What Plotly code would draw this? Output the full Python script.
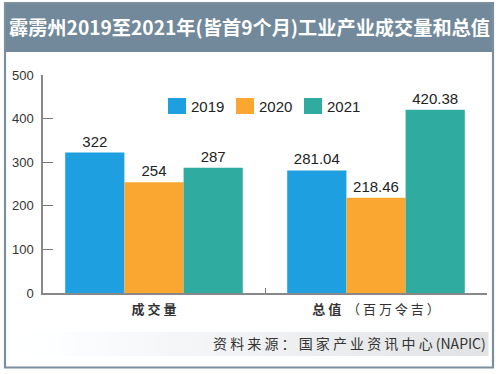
import plotly.graph_objects as go

categories = ["成交量", "总值（百万令吉）"]
tick_labels = ["<b>成 交 量</b>", "<b>总 值</b>  （ 百 万 令 吉 ）"]
series_names = ["2019", "2020", "2021"]
values_2019 = [322, 281.04]
values_2020 = [254, 218.46]
values_2021 = [287, 420.38]
label_2019 = ["322", "281.04"]
label_2020 = ["254", "218.46"]
label_2021 = ["287", "420.38"]
y_ticks = [0, 100, 200, 300, 400, 500]

title_text = "霹雳州2019至2021年(皆首9个月)工业产业成交量和总值"
source_text = "资 料 来 源 ： 国 家 产 业 资 讯 中 心 (NAPIC)"

colors = ["#1ea0e0", "#f9a731", "#2fab9f"]
W, H = 500, 374
ML, MR, MT, MB = 43, 13, 75, 81
PW, PH = W - ML - MR, H - MT - MB
num_font = "Liberation Sans, Arial, sans-serif"
cjk_font = "Noto Sans CJK SC"

fig = go.Figure()
for name, vals, labs, c in zip(series_names, [values_2019, values_2020, values_2021],
                                [label_2019, label_2020, label_2021], colors):
    fig.add_trace(go.Bar(
        x=categories, y=vals, name=name, marker=dict(color=c, line=dict(width=0)),
        text=labs, textposition="outside", cliponaxis=False,
        textfont=dict(family=num_font, size=15, color="#222222"),
        showlegend=False,
    ))

def px_x(p):
    return (p - ML) / PW

def px_y(p):
    return (H - MB - p) / PH

shapes = []
# gradient band behind source text
n = 40
x_start, x_end = 14, 488
for i in range(n):
    t = i / (n - 1)
    g = int(round(255 - (255 - 226) * t))
    col = f"rgb({g},{g+1},{min(255, g+3)})"
    xa = x_start + (x_end - x_start) * i / n
    xb = x_start + (x_end - x_start) * (i + 1) / n + 0.5
    shapes.append(dict(type="rect", xref="paper", yref="paper",
                       x0=px_x(xa), x1=px_x(xb), y0=px_y(356), y1=px_y(332),
                       fillcolor=col, line=dict(width=0), layer="below"))
# banner
shapes.append(dict(type="rect", xref="paper", yref="paper",
                   x0=px_x(4), x1=px_x(494), y0=px_y(3), y1=px_y(52),
                   fillcolor="#71899a", line=dict(width=0), layer="below"))
# frame
shapes.append(dict(type="rect", xref="paper", yref="paper",
                   x0=px_x(5), x1=px_x(493), y0=px_y(3), y1=px_y(367.5),
                   fillcolor="rgba(0,0,0,0)", line=dict(color="#7c8f9c", width=2.2), layer="above"))

annotations = []
annotations.append(dict(text="<b>" + title_text + "</b>", xref="paper", yref="paper",
                        x=px_x(249), y=px_y(27), xanchor="center", yanchor="middle",
                        showarrow=False, font=dict(family=cjk_font, size=19.2, color="white")))
annotations.append(dict(text=source_text, xref="paper", yref="paper",
                        x=px_x(488), y=px_y(343), xanchor="right", yanchor="middle",
                        showarrow=False, font=dict(family=cjk_font, size=14, color="#333333")))

# manual legend
leg_x = [168, 236, 304]
for name, c, lx in zip(series_names, colors, leg_x):
    shapes.append(dict(type="rect", xref="paper", yref="paper",
                       x0=px_x(lx), x1=px_x(lx + 18), y0=px_y(98), y1=px_y(114),
                       fillcolor=c, line=dict(width=0)))
    annotations.append(dict(text=name, xref="paper", yref="paper",
                            x=px_x(lx + 21), y=px_y(106), xanchor="left", yanchor="middle",
                            showarrow=False, font=dict(family=num_font, size=15, color="#222222")))

fig.update_layout(
    width=W, height=H,
    margin=dict(l=ML, r=MR, t=MT, b=MB, pad=0),
    paper_bgcolor="white", plot_bgcolor="white",
    barmode="group", bargap=0.2, bargroupgap=0,
    shapes=shapes, annotations=annotations,
    showlegend=False,
    xaxis=dict(
        tickmode="array", tickvals=categories, ticktext=tick_labels,
        tickson="boundaries", ticks="inside", ticklen=5, tickcolor="#777777",
        showline=True, linecolor="#888888", linewidth=1.5,
        tickfont=dict(family=cjk_font, size=13, color="#333333"),
        ticklabelstandoff=4,
        showgrid=False, zeroline=False,
    ),
    yaxis=dict(
        range=[0, 500], tickmode="array", tickvals=y_ticks,
        ticks="inside", ticklen=10, tickcolor="#777777", tickwidth=1,
        showline=True, linecolor="#888888", linewidth=1.5,
        tickfont=dict(family=num_font, size=13, color="#333333"),
        ticklabelstandoff=5,
        showgrid=False, zeroline=False,
    ),
)

fig.write_html("out.html", config={"displayModeBar": False},
               post_script="document.body.style.margin='0';document.body.style.padding='0';")
